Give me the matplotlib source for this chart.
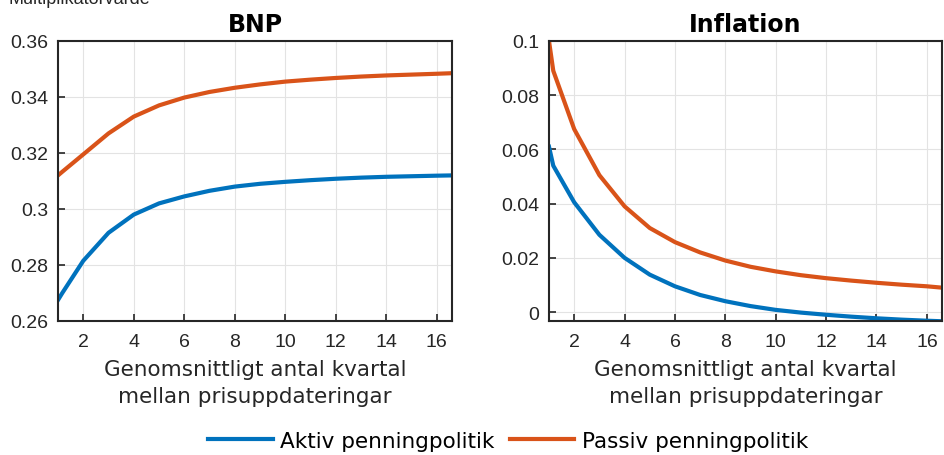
import matplotlib.pyplot as plt
import numpy as np

# Genomsnittligt antal kvartal mellan prisuppdateringar
x = [1, 1.17, 2, 3, 4, 5, 6, 7, 8, 9, 10, 11, 12, 13, 14, 15, 16, 16.6]

# BNP
bnp_aktiv = [0.2675, 0.2700, 0.2815, 0.2915, 0.2980, 0.3020, 0.3045, 0.3065, 0.3080,
             0.3090, 0.3097, 0.3103, 0.3108, 0.3112, 0.3115, 0.3117, 0.3119, 0.3120]
bnp_passiv = [0.3120, 0.3133, 0.3195, 0.3270, 0.3330, 0.3370, 0.3398, 0.3418, 0.3433,
              0.3445, 0.3455, 0.3462, 0.3468, 0.3473, 0.3477, 0.3480, 0.3483, 0.3485]

# Inflation
inf_aktiv = [0.0610, 0.0540, 0.0405, 0.0285, 0.0200, 0.0138, 0.0095, 0.0063, 0.0040,
             0.0022, 0.0008, -0.0002, -0.0010, -0.0017, -0.0023, -0.0028, -0.0032, -0.0034]
inf_passiv = [0.1000, 0.0890, 0.0675, 0.0505, 0.0390, 0.0310, 0.0258, 0.0220, 0.0190,
              0.0167, 0.0150, 0.0136, 0.0125, 0.0116, 0.0108, 0.0101, 0.0095, 0.0090]

blue = '#0072BD'
orange = '#D95319'

plt.rcParams['font.family'] = ['Liberation Sans', 'DejaVu Sans']

fig = plt.figure(figsize=(9.44, 4.56), dpi=100)
ax1 = fig.add_axes([58/944, 1-322/456, 394/944, 280/456])
ax2 = fig.add_axes([549/944, 1-322/456, 393/944, 280/456])


def style(ax):
    ax.grid(True, color='#e3e3e3', linewidth=0.8)
    ax.set_axisbelow(True)
    ax.tick_params(direction='in', length=5, width=1.2, labelsize=14, colors='#262626',
                   top=False, right=False)
    ax.tick_params(axis='x', pad=9)
    ax.tick_params(axis='y', pad=7)
    for s in ax.spines.values():
        s.set_linewidth(1.5)
        s.set_color('#262626')
    ax.set_xticks([2, 4, 6, 8, 10, 12, 14, 16])
    ax.set_xlim(1, 16.6)
    ax.set_xlabel("Genomsnittligt antal kvartal\nmellan prisuppdateringar",
                  family='DejaVu Sans', fontsize=15.5, color='#262626', labelpad=6,
                  linespacing=1.45)


l1, = ax1.plot(x, bnp_aktiv, color=blue, lw=3, label="Aktiv penningpolitik")
l2, = ax1.plot(x, bnp_passiv, color=orange, lw=3, label="Passiv penningpolitik")
ax1.set_ylim(0.26, 0.36)
ax1.set_yticks([0.26, 0.28, 0.30, 0.32, 0.34, 0.36])
ax1.set_yticklabels(['0.26', '0.28', '0.3', '0.32', '0.34', '0.36'])
ax1.set_title("BNP", fontsize=17, fontweight='bold', family='DejaVu Sans', pad=7)
style(ax1)

ax2.plot(x, inf_aktiv, color=blue, lw=3)
ax2.plot(x, inf_passiv, color=orange, lw=3)
ax2.set_ylim(-0.0033, 0.1)
ax2.set_yticks([0, 0.02, 0.04, 0.06, 0.08, 0.1])
ax2.set_yticklabels(['0', '0.02', '0.04', '0.06', '0.08', '0.1'])
ax2.set_title("Inflation", fontsize=17, fontweight='bold', family='DejaVu Sans', pad=7)
style(ax2)

fig.text(8/944, 1-4/456, "Multiplikatorvärde", fontsize=13, va='baseline', color='#262626')

fig.legend(handles=[l1, l2], loc='center', bbox_to_anchor=(508/944, 1-442/456), ncol=2,
           frameon=False, prop={'family': 'DejaVu Sans', 'size': 15.5},
           handlelength=3.0, handletextpad=0.35, columnspacing=0.7)

fig.savefig('out.png', dpi=100)
